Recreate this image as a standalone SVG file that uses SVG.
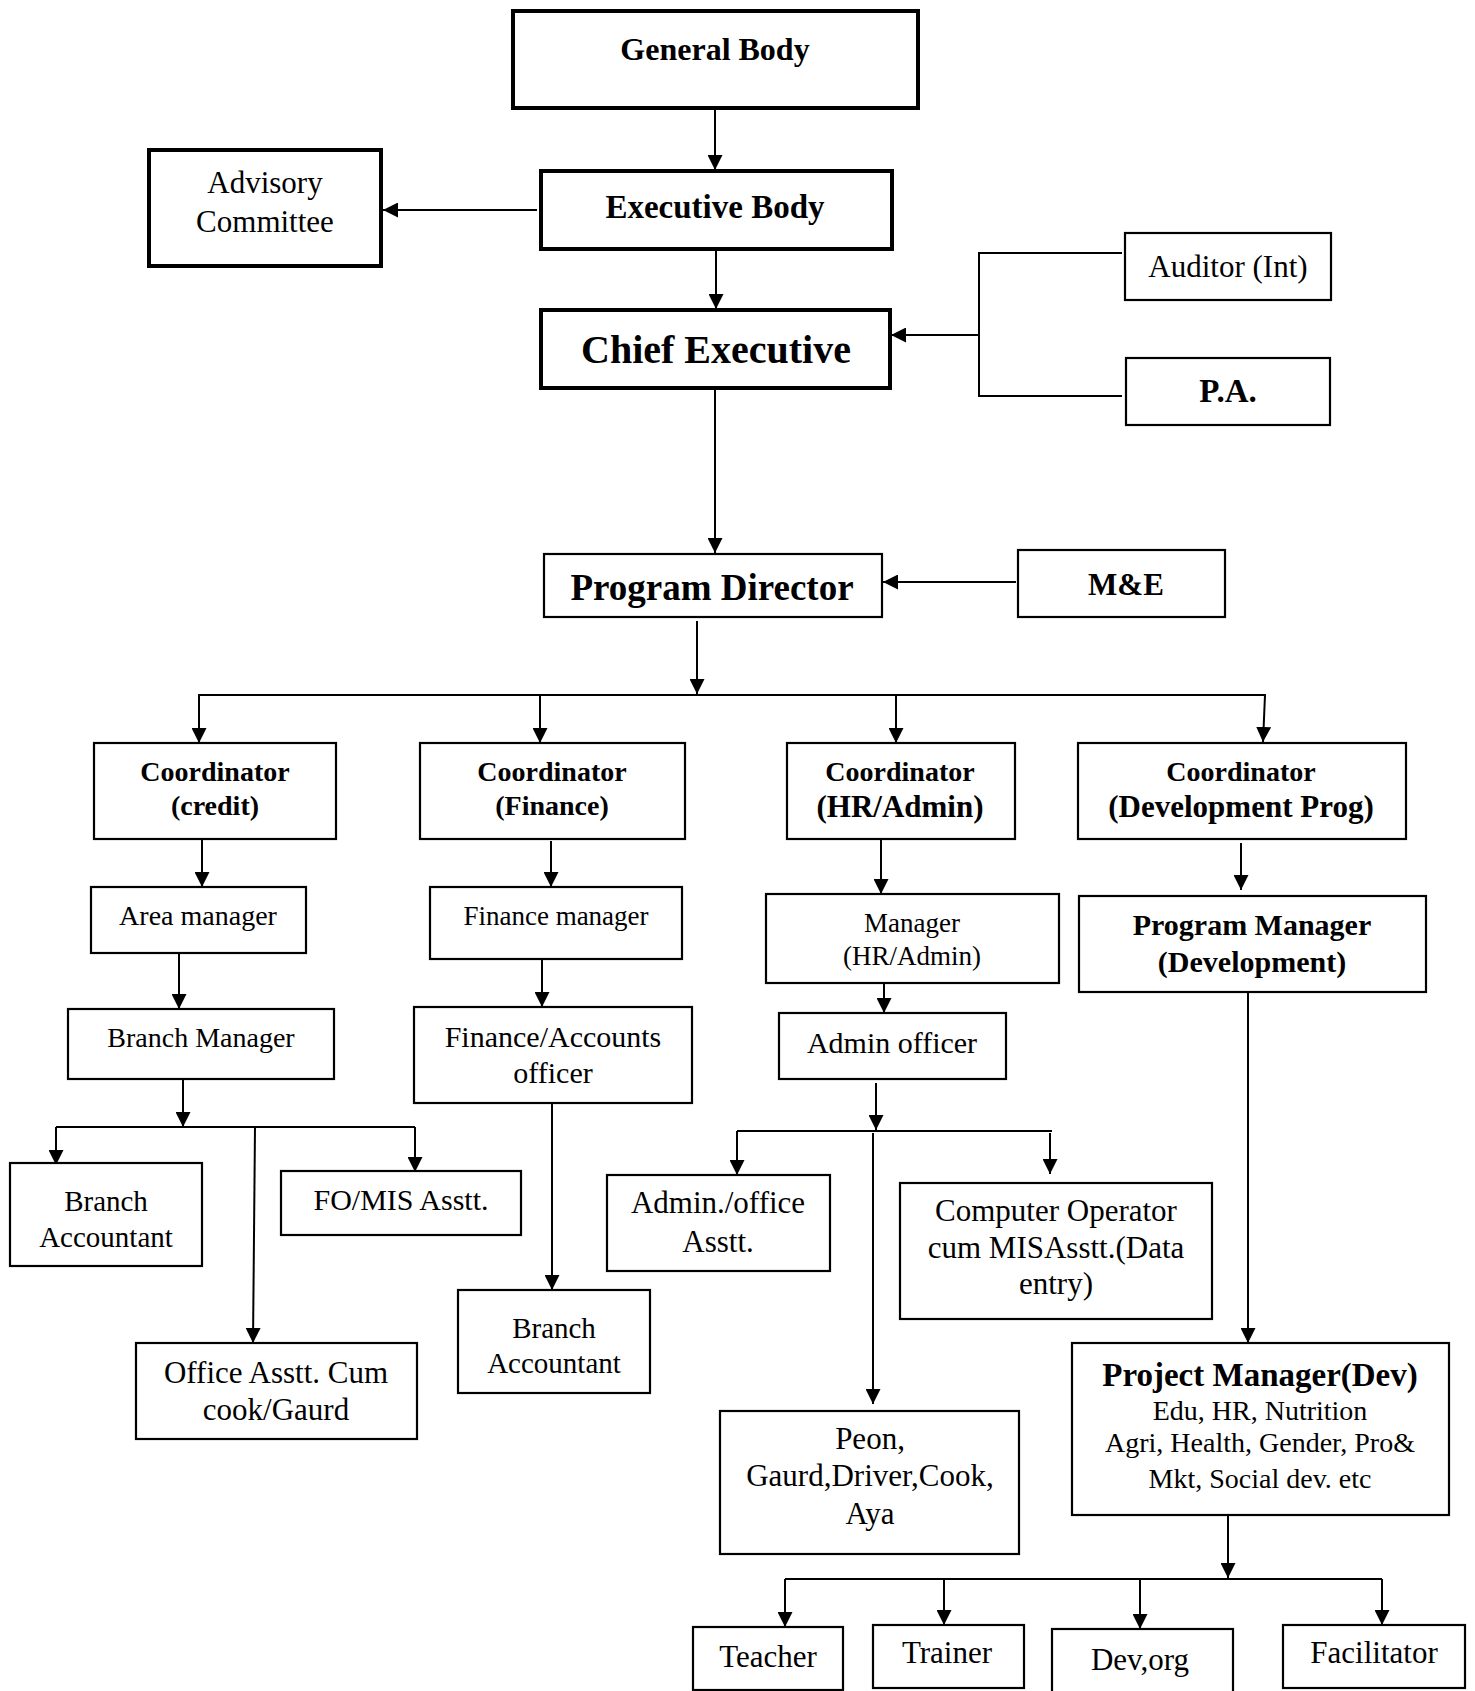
<svg xmlns="http://www.w3.org/2000/svg" width="1475" height="1691" viewBox="0 0 1475 1691">
<style>
  .box { fill: #fff; stroke: #000; stroke-width: 2.2; }
  .thick { fill: #fff; stroke: #000; stroke-width: 4; }
  .t { font-family: "Liberation Serif", "Times New Roman", serif; fill: #000; text-anchor: middle; }
  .b { font-weight: bold; }
  .c { fill: none; stroke: #000; stroke-width: 2; }
  .ca { fill: none; stroke: #000; stroke-width: 2; marker-end: url(#ah); }
</style>
<defs>
  <marker id="ah" markerUnits="userSpaceOnUse" markerWidth="15" markerHeight="15" refX="15" refY="7.5" orient="auto">
    <path d="M0,0 L15,7.5 L0,15 z" fill="#000"/>
  </marker>
</defs>
<rect x="0" y="0" width="1475" height="1691" fill="#fff"/>

<g id="connectors">
  <path class="ca" d="M715,108 V170"/>
  <path class="ca" d="M537,210 H383"/>
  <path class="ca" d="M716,245 V309"/>
  <path class="c" d="M1122,253 H979 V396 H1122"/>
  <path class="ca" d="M979,335 H891"/>
  <path class="ca" d="M715,388 V553"/>
  <path class="ca" d="M1016,582 H883"/>
  <path class="ca" d="M697,621 V694"/>
  <path class="c" d="M198,695 H1266"/>
  <path class="ca" d="M199,695 V743"/>
  <path class="ca" d="M540,695 V743"/>
  <path class="ca" d="M896,695 V743"/>
  <path class="ca" d="M1265,695 L1263,742"/>
  <path class="ca" d="M202,839 V887"/>
  <path class="ca" d="M179,953 V1009"/>
  <path class="ca" d="M183,1079 V1127"/>
  <path class="c" d="M56,1127 H415"/>
  <path class="ca" d="M56,1127 V1165"/>
  <path class="ca" d="M255,1127 L253,1343"/>
  <path class="ca" d="M415,1127 V1172"/>
  <path class="ca" d="M551,841 V887"/>
  <path class="ca" d="M542,959 V1007"/>
  <path class="ca" d="M552,1103 V1290"/>
  <path class="ca" d="M881,839 V894"/>
  <path class="ca" d="M884,983 V1013"/>
  <path class="ca" d="M876,1083 V1130"/>
  <path class="c" d="M737,1131 H1052"/>
  <path class="ca" d="M737,1131 V1175"/>
  <path class="ca" d="M1050,1133 V1174"/>
  <path class="ca" d="M873,1133 V1404"/>
  <path class="ca" d="M1241,843 V890"/>
  <path class="ca" d="M1248,992 V1343"/>
  <path class="ca" d="M1228,1515 V1578"/>
  <path class="c" d="M785,1579 H1382"/>
  <path class="ca" d="M785,1579 V1627"/>
  <path class="ca" d="M944,1579 V1625"/>
  <path class="ca" d="M1140,1579 V1629"/>
  <path class="ca" d="M1382,1579 V1625"/>
</g>

<g id="general-body">
  <rect class="thick" x="513" y="11" width="405" height="97"/>
  <text class="t b" x="715" y="60" font-size="32">General Body</text>
</g>
<g id="executive-body">
  <rect class="thick" x="541" y="171" width="351" height="78"/>
  <text class="t b" x="715" y="218" font-size="33">Executive Body</text>
</g>
<g id="advisory-committee">
  <rect class="thick" x="149" y="150" width="232" height="116"/>
  <text class="t" x="265" y="193" font-size="31">Advisory</text>
  <text class="t" x="265" y="232" font-size="31">Committee</text>
</g>
<g id="chief-executive">
  <rect class="thick" x="541" y="310" width="349" height="78"/>
  <text class="t b" x="716" y="363" font-size="40">Chief Executive</text>
</g>
<g id="auditor">
  <rect class="box" x="1125" y="233" width="206" height="67"/>
  <text class="t" x="1228" y="277" font-size="31">Auditor (Int)</text>
</g>
<g id="pa">
  <rect class="box" x="1126" y="358" width="204" height="67"/>
  <text class="t b" x="1228" y="402" font-size="33">P.A.</text>
</g>
<g id="program-director">
  <rect class="box" x="544" y="554" width="338" height="63"/>
  <text class="t b" x="712" y="600" font-size="37">Program Director</text>
</g>
<g id="me">
  <rect class="box" x="1018" y="550" width="207" height="67"/>
  <text class="t b" x="1126" y="595" font-size="31">M&amp;E</text>
</g>

<g id="coord-credit">
  <rect class="box" x="94" y="743" width="242" height="96"/>
  <text class="t b" x="215" y="781" font-size="28">Coordinator</text>
  <text class="t b" x="215" y="815" font-size="28">(credit)</text>
</g>
<g id="coord-finance">
  <rect class="box" x="420" y="743" width="265" height="96"/>
  <text class="t b" x="552" y="781" font-size="28">Coordinator</text>
  <text class="t b" x="552" y="815" font-size="28">(Finance)</text>
</g>
<g id="coord-hr">
  <rect class="box" x="787" y="743" width="228" height="96"/>
  <text class="t b" x="900" y="781" font-size="28">Coordinator</text>
  <text class="t b" x="900" y="817" font-size="31">(HR/Admin)</text>
</g>
<g id="coord-dev">
  <rect class="box" x="1078" y="743" width="328" height="96"/>
  <text class="t b" x="1241" y="781" font-size="28">Coordinator</text>
  <text class="t b" x="1241" y="817" font-size="31">(Development Prog)</text>
</g>

<g id="area-manager">
  <rect class="box" x="91" y="887" width="215" height="66"/>
  <text class="t" x="198" y="925" font-size="28">Area manager</text>
</g>
<g id="finance-manager">
  <rect class="box" x="430" y="887" width="252" height="72"/>
  <text class="t" x="556" y="925" font-size="27">Finance manager</text>
</g>
<g id="manager-hr">
  <rect class="box" x="766" y="894" width="293" height="89"/>
  <text class="t" x="912" y="932" font-size="27">Manager</text>
  <text class="t" x="912" y="965" font-size="27">(HR/Admin)</text>
</g>
<g id="program-manager">
  <rect class="box" x="1079" y="896" width="347" height="96"/>
  <text class="t b" x="1252" y="935" font-size="30">Program Manager</text>
  <text class="t b" x="1252" y="972" font-size="30">(Development)</text>
</g>

<g id="branch-manager">
  <rect class="box" x="68" y="1009" width="266" height="70"/>
  <text class="t" x="201" y="1047" font-size="28">Branch Manager</text>
</g>
<g id="finance-accounts-officer">
  <rect class="box" x="414" y="1007" width="278" height="96"/>
  <text class="t" x="553" y="1047" font-size="30">Finance/Accounts</text>
  <text class="t" x="553" y="1083" font-size="30">officer</text>
</g>
<g id="admin-officer">
  <rect class="box" x="779" y="1013" width="227" height="66"/>
  <text class="t" x="892" y="1053" font-size="30">Admin officer</text>
</g>

<g id="branch-accountant-1">
  <rect class="box" x="10" y="1163" width="192" height="103"/>
  <text class="t" x="106" y="1211" font-size="29">Branch</text>
  <text class="t" x="106" y="1247" font-size="29">Accountant</text>
</g>
<g id="fo-mis">
  <rect class="box" x="281" y="1171" width="240" height="64"/>
  <text class="t" x="401" y="1210" font-size="30">FO/MIS Asstt.</text>
</g>
<g id="office-asstt">
  <rect class="box" x="136" y="1343" width="281" height="96"/>
  <text class="t" x="276" y="1383" font-size="31">Office Asstt. Cum</text>
  <text class="t" x="276" y="1420" font-size="31">cook/Gaurd</text>
</g>
<g id="branch-accountant-2">
  <rect class="box" x="458" y="1290" width="192" height="103"/>
  <text class="t" x="554" y="1338" font-size="29">Branch</text>
  <text class="t" x="554" y="1373" font-size="29">Accountant</text>
</g>
<g id="admin-office-asstt">
  <rect class="box" x="607" y="1175" width="223" height="96"/>
  <text class="t" x="718" y="1213" font-size="31">Admin./office</text>
  <text class="t" x="718" y="1252" font-size="31">Asstt.</text>
</g>
<g id="computer-operator">
  <rect class="box" x="900" y="1183" width="312" height="136"/>
  <text class="t" x="1056" y="1221" font-size="31">Computer Operator</text>
  <text class="t" x="1056" y="1258" font-size="31">cum MISAsstt.(Data</text>
  <text class="t" x="1056" y="1294" font-size="31">entry)</text>
</g>
<g id="peon">
  <rect class="box" x="720" y="1411" width="299" height="143"/>
  <text class="t" x="870" y="1449" font-size="31">Peon,</text>
  <text class="t" x="870" y="1486" font-size="31">Gaurd,Driver,Cook,</text>
  <text class="t" x="870" y="1524" font-size="31">Aya</text>
</g>
<g id="project-manager">
  <rect class="box" x="1072" y="1343" width="377" height="172"/>
  <text class="t b" x="1260" y="1386" font-size="33">Project Manager(Dev)</text>
  <text class="t" x="1260" y="1420" font-size="28">Edu, HR, Nutrition</text>
  <text class="t" x="1260" y="1452" font-size="28">Agri, Health, Gender, Pro&amp;</text>
  <text class="t" x="1260" y="1488" font-size="28">Mkt, Social dev. etc</text>
</g>

<g id="teacher">
  <rect class="box" x="693" y="1627" width="150" height="63"/>
  <text class="t" x="768" y="1667" font-size="31">Teacher</text>
</g>
<g id="trainer">
  <rect class="box" x="873" y="1625" width="151" height="63"/>
  <text class="t" x="947" y="1663" font-size="31">Trainer</text>
</g>
<g id="dev-org">
  <rect class="box" x="1052" y="1629" width="181" height="70"/>
  <text class="t" x="1140" y="1670" font-size="31">Dev,org</text>
</g>
<g id="facilitator">
  <rect class="box" x="1283" y="1625" width="182" height="63"/>
  <text class="t" x="1374" y="1663" font-size="31">Facilitator</text>
</g>
</svg>
